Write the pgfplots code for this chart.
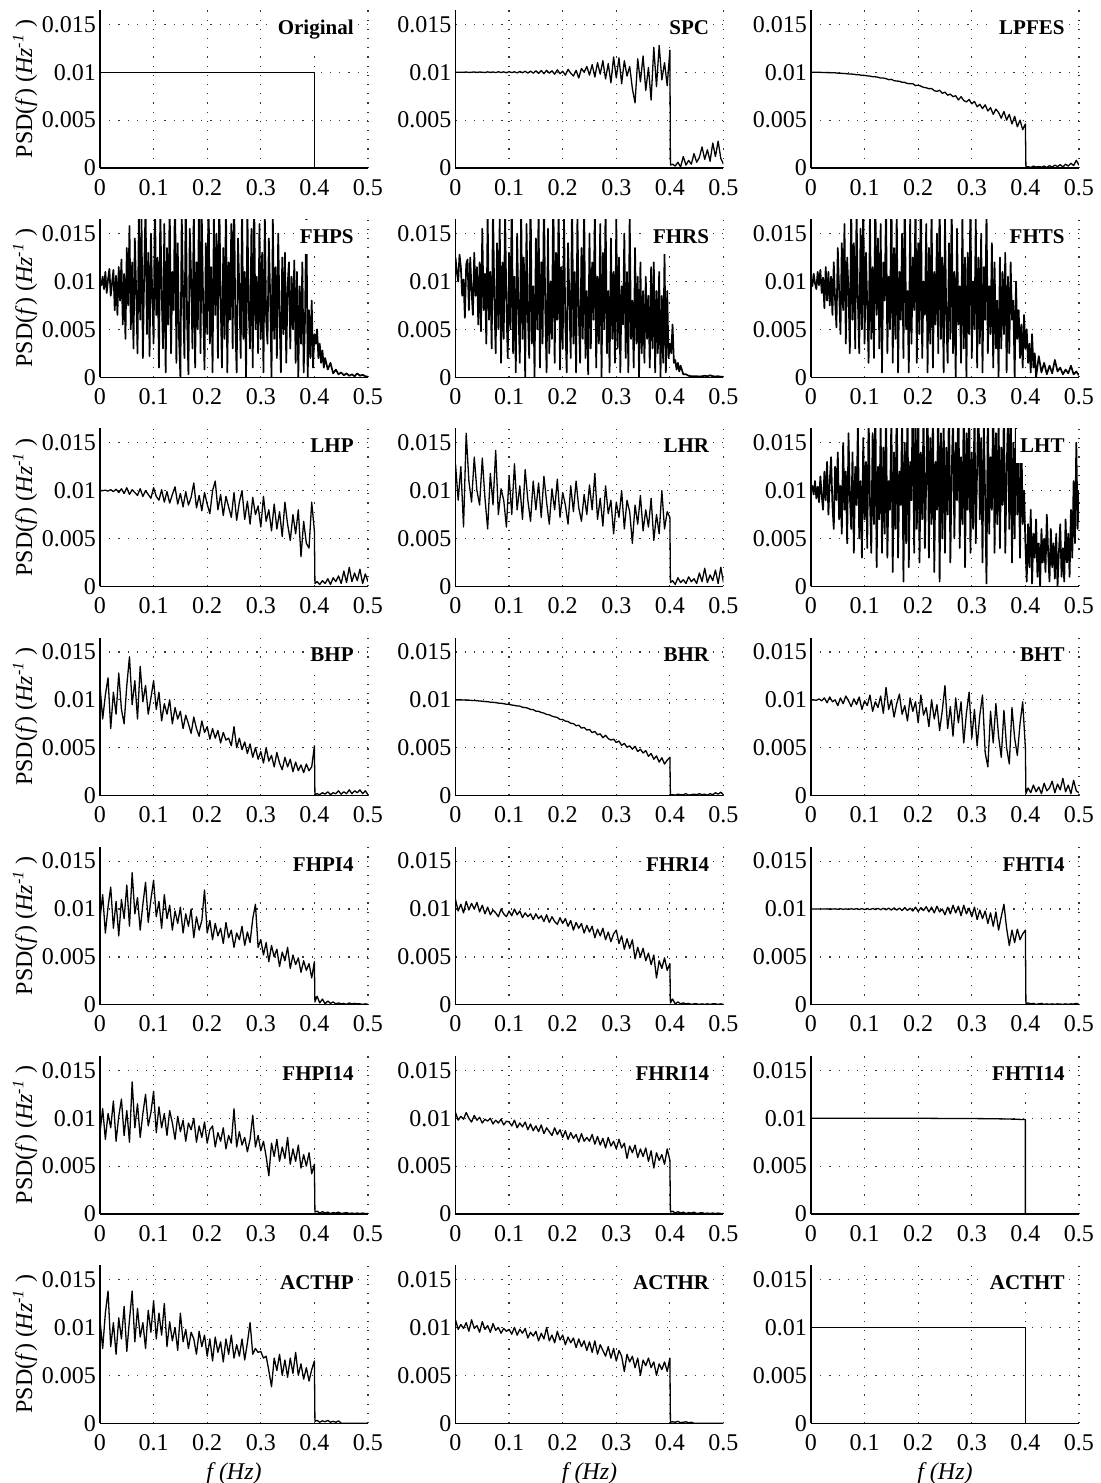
\documentclass[border=0pt]{standalone}
\usepackage{fontspec}
\setmainfont{Liberation Serif}
\usepackage{pgfplots}
\pgfplotsset{compat=1.18}
\usepgfplotslibrary{groupplots}
\tikzset{
 dat/.style={black, line width=0.65pt, line join=round, mark=none},
 heavy/.style={black, line width=0.85pt, line join=round, mark=none},
 ttl/.style={anchor=north east, fill=white, inner xsep=2pt, inner ysep=5pt, xshift=-5pt, font=\fontsize{10.5}{12}\selectfont\bfseries},
}
\pgfplotsset{
 psd/.style={scale only axis, width=134pt, height=79pt,
  xmin=0, xmax=500, ymin=0, ymax=16.5,
  xtick={0,100,200,300,400,500}, xticklabels={0,0.1,0.2,0.3,0.4,0.5},
  ytick={0,5,10,15}, yticklabels={0,0.005,0.01,0.015},
  axis x line=bottom, axis y line=left, axis line style={-, line width=0.6pt},
  grid=major, major grid style={black!80, line width=0.6pt, dash pattern=on 0.6pt off 4pt},
  major tick length=0pt,
  tick label style={font=\fontsize{12}{14}\selectfont},
  label style={font=\fontsize{12}{14}\selectfont},
  yticklabel style={xshift=1.5pt},
  xticklabel style={yshift=-2pt},
  ylabel shift=-4.5pt,
  xlabel style={yshift=1pt},
 },
}
\newcommand{\psdlabel}{PSD(\textit{f}) (\textit{Hz}\textsuperscript{\textit{-1}} )}
\begin{document}
\begin{tikzpicture}
\begin{groupplot}[group style={group size=3 by 7, horizontal sep=43.75pt, vertical sep=25.6pt}, psd]
% ---------- Row 1
\nextgroupplot[ylabel={\psdlabel}]
\addplot[dat] coordinates {(0,10)(400,10)(400,0)(500,0)};
\node[ttl] at (rel axis cs:1,1) {Original};
\nextgroupplot
\addplot[dat] coordinates {(0,10.0)(5,10.0)(10,10.0)(15,10.0)(20,10.02)(25,9.98)(30,10.0)(35,10.03)(40,9.98)(45,10.02)(50,10.0)(55,9.97)(60,10.04)(65,9.98)(70,10.03)(75,9.96)(80,10.05)(85,9.97)(90,10.04)(95,9.95)(100,10.06)(105,9.96)(110,10.05)(115,9.93)(120,10.08)(125,9.95)(130,10.1)(135,9.92)(140,10.12)(145,9.9)(150,10.15)(155,9.88)(160,10.18)(165,9.85)(170,10.2)(175,9.9)(180,10.15)(185,9.8)(190,10.25)(195,9.85)(200,10.1)(205,9.7)(210,10.3)(215,9.9)(220,9.6)(225,10.2)(230,9.4)(235,10.4)(240,10.0)(245,10.6)(250,9.7)(255,10.8)(260,9.5)(265,11.0)(270,9.8)(275,11.2)(280,9.3)(285,10.9)(290,8.9)(295,11.6)(300,9.4)(305,11.5)(310,8.8)(315,11.2)(320,9.6)(325,10.6)(330,8.3)(335,6.8)(340,11.4)(345,9.0)(350,11.7)(355,8.1)(360,10.5)(365,7.1)(370,12.6)(375,8.5)(380,12.8)(385,9.2)(390,11.0)(395,8.6)(400,12.3)(401,0.3)(405,0.4)(410,0.2)(415,0.6)(420,0.1)(425,1.2)(430,0.3)(435,0.8)(440,0.4)(445,1.5)(450,0.6)(455,1.1)(460,2.2)(465,0.9)(470,1.9)(475,0.7)(480,2.6)(485,1.2)(490,2.8)(495,1.0)(500,0.4)};
\node[ttl] at (rel axis cs:1,1) {SPC};
\nextgroupplot
\addplot[dat] coordinates {(0,10.0)(5,10.0)(10,9.99)(15,10.0)(20,9.98)(25,9.98)(30,9.96)(35,9.96)(40,9.95)(45,9.94)(50,9.91)(55,9.9)(60,9.87)(65,9.86)(70,9.82)(75,9.81)(80,9.79)(85,9.74)(90,9.73)(95,9.68)(100,9.67)(105,9.62)(110,9.6)(115,9.53)(120,9.52)(125,9.48)(130,9.39)(135,9.4)(140,9.33)(145,9.22)(150,9.26)(155,9.12)(160,9.08)(165,9.06)(170,8.95)(175,8.94)(180,8.82)(185,8.8)(190,8.8)(195,8.6)(200,8.65)(205,8.55)(210,8.42)(215,8.38)(220,8.28)(225,8.3)(230,8.08)(235,8.0)(240,8.12)(245,7.8)(250,7.92)(255,7.6)(260,7.72)(265,7.45)(270,7.55)(275,7.1)(280,7.45)(285,7.05)(290,6.9)(295,7.15)(300,6.7)(305,6.95)(310,6.4)(315,6.65)(320,6.2)(325,6.6)(330,5.95)(335,6.3)(340,5.6)(345,6.15)(350,5.8)(355,5.2)(360,5.9)(365,5.0)(370,5.6)(375,4.6)(380,5.4)(385,4.3)(390,5.0)(395,4.0)(400,4.6)(401,0.1)(405,0.15)(410,0.05)(415,0.2)(420,0.1)(425,0.15)(430,0.1)(435,0.2)(440,0.05)(445,0.25)(450,0.1)(455,0.3)(460,0.15)(465,0.35)(470,0.1)(475,0.4)(480,0.2)(485,0.5)(490,0.25)(495,0.8)(500,0.3)};
\node[ttl] at (rel axis cs:1,1) {LPFES};
% ---------- Row 2
\nextgroupplot[ylabel={\psdlabel}]
\addplot[heavy] coordinates {(0,10.0)(2.5,9.6)(5,10.5)(7.5,9.2)(10,11.0)(12.5,8.8)(15,10.2)(17.5,11.3)(20,8.5)(22.5,9.8)(25,11.2)(27.5,7.0)(30,10.6)(32.5,6.5)(35,11.5)(37.5,8.0)(40,12.3)(42.5,5.5)(45,10.8)(47.5,4.0)(50,13.5)(52.5,7.5)(55,15.8)(57.5,5.0)(60,12.0)(62.5,3.0)(65,14.5)(67.5,9.0)(70,2.5)(72.5,17.0)(75,6.0)(77.5,16.5)(80,2.0)(82.5,11.0)(85,18.0)(87.5,4.5)(90,13.0)(92.5,2.2)(95,15.0)(97.5,8.5)(100,3.5)(102.5,19.0)(105,6.5)(107.5,12.5)(110,1.0)(112.5,17.5)(115,9.0)(117.5,3.0)(120,16.0)(122.5,0.5)(125,13.5)(127.5,5.5)(130,18.5)(132.5,2.5)(135,11.0)(137.5,7.0)(140,20.0)(142.5,1.5)(145,14.0)(147.5,4.0)(150,0.0)(152.5,17.0)(155,8.5)(157.5,2.0)(160,19.5)(162.5,6.0)(165,0.3)(167.5,15.5)(170,10.5)(172.5,3.0)(175,18.0)(177.5,1.0)(180,12.0)(182.5,5.0)(185,21.0)(187.5,2.5)(190,16.5)(192.5,7.5)(195,0.8)(197.5,14.0)(200,4.5)(202.5,20.0)(205,3.5)(207.5,11.5)(210,0.5)(212.5,17.0)(215,6.5)(217.5,15.0)(220,2.0)(222.5,19.0)(225,8.5)(227.5,1.0)(230,13.5)(232.5,4.0)(235,18.5)(237.5,0.5)(240,12.0)(242.5,6.0)(245,16.0)(247.5,3.0)(250,20.5)(252.5,5.5)(255,0.5)(257.5,14.5)(260,9.0)(262.5,2.0)(265,18.0)(267.5,4.0)(270,11.0)(272.5,0.0)(275,17.5)(277.5,7.0)(280,3.0)(282.5,15.5)(285,1.0)(287.5,19.5)(290,5.0)(292.5,10.5)(295,2.5)(297.5,16.0)(300,4.0)(302.5,13.0)(305,0.5)(307.5,17.0)(310,6.0)(312.5,3.5)(315,14.5)(317.5,8.5)(320,0.0)(322.5,16.5)(325,4.0)(327.5,11.5)(330,2.0)(332.5,15.0)(335,6.5)(337.5,0.5)(340,12.5)(342.5,4.5)(345,13.0)(347.5,1.5)(350,9.5)(352.5,12.0)(355,3.0)(357.5,10.5)(360,5.0)(362.5,12.2)(365,1.5)(367.5,11.0)(370,0.0)(372.5,9.5)(375,3.5)(377.5,12.0)(380,0.5)(382.5,6.0)(385,18.0)(387.5,0.0)(390,7.0)(392.5,2.0)(395,8.0)(397.5,1.0)(400,4.5)(402.5,3.5)(405,5.0)(407.5,2.0)(410,3.5)(412.5,1.5)(415,2.8)(417.5,1.0)(420,2.0)(425,0.8)(430,1.5)(435,0.4)(440,0.8)(445,0.3)(450,0.5)(455,0.2)(460,0.4)(465,0.15)(470,0.3)(475,0.1)(480,0.4)(485,0.15)(490,0.25)(495,0.1)(500,0.05)};
\node[ttl] at (rel axis cs:1,1) {FHPS};
\nextgroupplot
\addplot[heavy] coordinates {(0,12.5)(2.5,11.0)(5,10.0)(7.5,12.8)(10,11.5)(12.5,8.5)(15,10.2)(17.5,6.2)(20,11.8)(22.5,12.3)(25,7.0)(27.5,12.5)(30,9.0)(32.5,6.5)(35,13.0)(37.5,8.5)(40,11.5)(42.5,5.5)(45,12.0)(47.5,4.8)(50,15.5)(52.5,7.0)(55,10.8)(57.5,3.5)(60,17.0)(62.5,6.0)(65,11.0)(67.5,3.0)(70,18.0)(72.5,8.0)(75,2.5)(77.5,14.0)(80,5.0)(82.5,16.5)(85,1.5)(87.5,12.0)(90,4.0)(92.5,17.5)(95,7.5)(97.5,2.0)(100,13.0)(102.5,5.0)(105,19.0)(107.5,2.5)(110,10.5)(112.5,0.5)(115,15.0)(117.5,7.0)(120,1.5)(122.5,18.0)(125,4.0)(127.5,12.5)(130,0.0)(132.5,16.0)(135,6.5)(137.5,2.0)(140,20.0)(142.5,3.5)(145,9.5)(147.5,0.0)(150,14.5)(152.5,5.0)(155,17.5)(157.5,1.0)(160,12.0)(162.5,3.5)(165,19.0)(167.5,7.0)(170,0.5)(172.5,15.5)(175,2.5)(177.5,10.0)(180,4.0)(182.5,20.5)(185,1.5)(187.5,13.0)(190,6.0)(192.5,18.0)(195,0.8)(197.5,11.5)(200,3.0)(202.5,16.5)(205,5.5)(207.5,0.5)(210,14.0)(212.5,8.0)(215,2.0)(217.5,19.0)(220,3.5)(222.5,11.0)(225,0.5)(227.5,17.0)(230,6.5)(232.5,1.5)(235,13.5)(237.5,4.0)(240,18.5)(242.5,2.0)(245,9.0)(247.5,0.3)(250,15.0)(252.5,3.0)(255,12.0)(257.5,6.0)(260,17.5)(262.5,1.0)(265,10.5)(267.5,3.5)(270,16.0)(272.5,0.0)(275,13.0)(277.5,5.0)(280,18.0)(282.5,2.5)(285,9.0)(287.5,0.5)(290,14.5)(292.5,4.0)(295,11.0)(297.5,1.5)(300,16.5)(302.5,3.0)(305,12.5)(307.5,0.5)(310,9.5)(312.5,5.5)(315,15.0)(317.5,2.0)(320,11.0)(322.5,0.5)(325,17.0)(327.5,4.0)(330,8.0)(332.5,1.0)(335,13.5)(337.5,3.5)(340,10.5)(342.5,0.0)(345,12.0)(347.5,2.5)(350,9.0)(352.5,1.5)(355,10.5)(357.5,4.0)(360,8.5)(362.5,1.0)(365,11.5)(367.5,3.0)(370,12.0)(372.5,0.5)(375,9.0)(377.5,2.5)(380,11.0)(382.5,0.0)(385,8.5)(387.5,1.5)(390,13.0)(392.5,0.5)(395,9.0)(397.5,2.0)(400,3.5)(402.5,2.5)(405,5.5)(407.5,1.5)(410,1.8)(412.5,0.8)(415,1.5)(417.5,0.6)(420,1.2)(425,0.3)(430,0.3)(435,0.15)(440,0.1)(445,0.1)(450,0.1)(455,0.08)(460,0.1)(465,0.15)(470,0.1)(475,0.2)(480,0.1)(485,0.08)(490,0.1)(495,0.05)(500,0.05)};
\node[ttl] at (rel axis cs:1,1) {FHRS};
\nextgroupplot
\addplot[heavy] coordinates {(0,10.0)(2.5,9.5)(5,10.8)(7.5,9.8)(10,9.2)(12.5,11.0)(15,9.6)(17.5,11.2)(20,8.8)(22.5,10.4)(25,7.2)(27.5,11.5)(30,8.0)(32.5,11.0)(35,7.5)(37.5,10.5)(40,6.5)(42.5,12.0)(45,8.0)(47.5,5.2)(50,13.5)(52.5,9.0)(55,4.5)(57.5,14.0)(60,7.0)(62.5,16.0)(65,3.5)(67.5,12.5)(70,9.0)(72.5,2.5)(75,18.0)(77.5,6.0)(80,14.0)(82.5,3.0)(85,17.5)(87.5,8.0)(90,2.5)(92.5,15.5)(95,5.0)(97.5,19.0)(100,3.5)(102.5,13.0)(105,7.5)(107.5,1.5)(110,17.0)(112.5,4.0)(115,11.5)(117.5,2.0)(120,19.5)(122.5,6.5)(125,14.5)(127.5,3.0)(130,16.0)(132.5,0.5)(135,12.0)(137.5,8.0)(140,18.0)(142.5,2.5)(145,10.5)(147.5,5.0)(150,20.0)(152.5,1.5)(155,13.5)(157.5,4.0)(160,17.5)(162.5,0.5)(165,11.0)(167.5,6.0)(170,15.0)(172.5,2.0)(175,19.0)(177.5,5.0)(180,9.0)(182.5,0.5)(185,16.5)(187.5,3.5)(190,12.5)(192.5,7.0)(195,18.5)(197.5,1.5)(200,14.0)(202.5,4.5)(205,20.5)(207.5,2.0)(210,10.0)(212.5,6.5)(215,16.0)(217.5,0.5)(220,13.5)(222.5,3.5)(225,18.0)(227.5,1.0)(230,11.0)(232.5,5.5)(235,15.0)(237.5,2.5)(240,19.0)(242.5,4.0)(245,12.5)(247.5,0.5)(250,16.5)(252.5,6.0)(255,1.5)(257.5,14.0)(260,4.0)(262.5,18.5)(265,2.5)(267.5,11.0)(270,0.0)(272.5,15.5)(275,5.5)(277.5,9.5)(280,1.5)(282.5,17.0)(285,3.0)(287.5,12.5)(290,0.0)(292.5,13.0)(295,4.5)(297.5,19.0)(300,2.0)(302.5,10.0)(305,5.0)(307.5,16.5)(310,1.0)(312.5,12.5)(315,3.5)(317.5,15.0)(320,0.5)(322.5,11.5)(325,6.0)(327.5,17.5)(330,2.5)(332.5,9.5)(335,4.5)(337.5,14.0)(340,1.0)(342.5,12.0)(345,3.0)(347.5,8.0)(350,0.0)(352.5,12.5)(355,3.0)(357.5,11.0)(360,4.5)(362.5,13.0)(365,0.5)(367.5,10.5)(370,2.5)(372.5,12.0)(375,6.0)(377.5,8.0)(380,0.0)(382.5,10.0)(385,4.0)(387.5,7.0)(390,2.0)(392.5,5.5)(395,1.0)(397.5,6.5)(400,3.0)(402.5,5.0)(405,1.5)(407.5,3.5)(410,0.5)(412.5,4.5)(415,1.0)(417.5,2.5)(420,0.0)(425,2.2)(430,0.5)(435,1.5)(440,0.3)(445,1.2)(450,0.4)(455,1.8)(460,0.6)(465,1.0)(470,0.3)(475,0.8)(480,0.4)(485,1.2)(490,0.3)(495,0.6)(500,0.2)};
\node[ttl] at (rel axis cs:1,1) {FHTS};
% ---------- Row 3
\nextgroupplot[ylabel={\psdlabel}]
\addplot[dat] coordinates {(0,10.0)(5,10.0)(10,10.05)(15,9.95)(20,10.1)(25,9.9)(30,10.15)(35,9.8)(40,10.2)(45,9.7)(50,10.3)(55,9.6)(60,10.1)(65,9.8)(70,9.5)(75,10.2)(80,9.4)(85,10.0)(90,9.6)(95,9.2)(100,10.3)(105,9.4)(110,9.0)(115,10.1)(120,8.8)(125,9.9)(130,8.7)(135,9.6)(140,10.4)(145,8.6)(150,9.7)(155,8.3)(160,9.9)(165,8.5)(170,9.3)(175,10.8)(180,8.2)(185,9.5)(190,7.9)(195,9.8)(200,8.6)(205,7.6)(210,10.0)(215,11.0)(220,8.0)(225,9.6)(230,7.4)(235,9.4)(240,8.3)(245,7.2)(250,9.8)(255,6.9)(260,8.8)(265,10.0)(270,7.0)(275,8.9)(280,6.5)(285,9.3)(290,7.5)(295,8.4)(300,6.2)(305,9.4)(310,6.8)(315,8.0)(320,5.8)(325,8.6)(330,6.0)(335,7.8)(340,5.2)(345,8.8)(350,6.5)(355,4.8)(360,7.5)(365,5.5)(370,8.0)(375,3.1)(380,6.8)(385,4.5)(390,4.0)(395,8.8)(400,5.8)(401,0.3)(405,0.5)(410,0.2)(415,0.6)(420,0.3)(425,0.8)(430,0.2)(435,0.9)(440,0.5)(445,1.1)(450,0.3)(455,1.6)(460,0.4)(465,2.0)(470,0.5)(475,1.4)(480,0.6)(485,1.8)(490,0.3)(495,1.3)(500,0.5)};
\node[ttl] at (rel axis cs:1,1) {LHP};
\nextgroupplot
\addplot[dat] coordinates {(0,12.8)(5,9.0)(10,12.5)(15,6.2)(20,16.0)(25,11.0)(30,8.8)(35,13.5)(40,10.0)(45,8.5)(50,13.4)(55,9.2)(60,6.0)(65,11.8)(70,8.5)(75,14.2)(80,7.5)(85,10.2)(90,9.0)(95,6.2)(100,11.5)(105,7.5)(110,12.8)(115,8.0)(120,10.5)(125,7.0)(130,12.2)(135,9.0)(140,6.8)(145,11.0)(150,8.0)(155,10.8)(160,7.2)(165,11.5)(170,8.8)(175,6.5)(180,10.2)(185,8.0)(190,11.2)(195,7.2)(200,9.8)(205,8.5)(210,6.5)(215,10.5)(220,7.8)(225,11.0)(230,8.2)(235,6.8)(240,9.6)(245,7.5)(250,10.6)(255,8.0)(260,11.8)(265,7.0)(270,9.2)(275,6.3)(280,10.5)(285,7.6)(290,9.0)(295,5.5)(300,8.8)(305,7.2)(310,10.0)(315,6.0)(320,9.0)(325,7.8)(330,4.5)(335,8.5)(340,6.5)(345,9.5)(350,5.8)(355,8.0)(360,6.2)(365,9.2)(370,4.8)(375,7.5)(380,5.5)(385,10.0)(390,6.0)(395,7.8)(400,7.2)(401,0.4)(405,0.6)(410,0.2)(415,0.9)(420,0.4)(425,0.7)(430,0.3)(435,1.0)(440,0.5)(445,0.8)(450,0.3)(455,1.4)(460,0.5)(465,1.9)(470,0.4)(475,1.2)(480,0.6)(485,1.7)(490,0.3)(495,2.0)(500,0.4)};
\node[ttl] at (rel axis cs:1,1) {LHR};
\nextgroupplot
\addplot[heavy] coordinates {(0,10.0)(2.5,10.5)(5,9.6)(7.5,11.0)(10,9.2)(12.5,10.4)(15,8.8)(17.5,11.5)(20,9.5)(22.5,8.0)(25,12.0)(27.5,9.0)(30,13.0)(32.5,7.5)(35,11.0)(37.5,13.5)(40,8.5)(42.5,6.0)(45,12.5)(47.5,9.0)(50,14.0)(52.5,7.0)(55,10.5)(57.5,5.5)(60,15.0)(62.5,8.0)(65,12.0)(67.5,4.5)(70,16.0)(72.5,9.5)(75,6.0)(77.5,14.0)(80,3.5)(82.5,12.5)(85,8.5)(87.5,17.0)(90,5.0)(92.5,11.0)(95,3.0)(97.5,15.5)(100,7.0)(102.5,13.0)(105,4.0)(107.5,18.0)(110,9.0)(112.5,3.5)(115,16.0)(117.5,6.5)(120,20.0)(122.5,2.0)(125,12.5)(127.5,7.0)(130,17.0)(132.5,3.5)(135,14.5)(137.5,5.5)(140,19.0)(142.5,3.0)(145,11.0)(147.5,8.0)(150,18.0)(152.5,1.5)(155,14.0)(157.5,6.0)(160,20.0)(162.5,3.0)(165,12.0)(167.5,8.5)(170,17.5)(172.5,0.5)(175,15.0)(177.5,4.5)(180,19.0)(182.5,2.0)(185,13.0)(187.5,9.0)(190,21.0)(192.5,3.5)(195,16.5)(197.5,6.0)(200,20.0)(202.5,2.5)(205,14.0)(207.5,7.0)(210,18.5)(212.5,4.0)(215,11.0)(217.5,20.0)(220,3.0)(222.5,15.5)(225,6.5)(227.5,19.0)(230,1.5)(232.5,13.0)(235,8.0)(237.5,20.5)(240,0.5)(242.5,16.0)(245,5.0)(247.5,18.0)(250,3.5)(252.5,14.5)(255,7.5)(257.5,20.0)(260,2.5)(262.5,12.0)(265,17.5)(267.5,5.0)(270,15.0)(272.5,9.0)(275,21.0)(277.5,4.0)(280,13.5)(282.5,6.5)(285,19.0)(287.5,2.0)(290,16.0)(292.5,8.0)(295,20.0)(297.5,3.5)(300,14.0)(302.5,6.0)(305,18.5)(307.5,4.5)(310,12.5)(312.5,20.0)(315,7.0)(317.5,15.5)(320,2.5)(322.5,17.0)(325,9.0)(327.5,0.3)(330,19.5)(332.5,5.5)(335,13.5)(337.5,8.0)(340,20.0)(342.5,3.5)(345,16.0)(347.5,6.5)(350,18.0)(352.5,4.0)(355,14.5)(357.5,8.5)(360,19.0)(362.5,3.5)(365,12.0)(367.5,17.5)(370,6.0)(372.5,20.0)(375,2.5)(377.5,15.0)(380,5.0)(382.5,18.5)(385,7.5)(387.5,13.0)(390,3.0)(392.5,16.0)(395,6.5)(397.5,10.0)(400,4.5)(402.5,0.5)(405,6.5)(407.5,2.0)(410,8.0)(412.5,0.3)(415,5.5)(417.5,3.0)(420,7.0)(422.5,1.0)(425,4.5)(427.5,0.0)(430,6.0)(432.5,2.5)(435,5.0)(437.5,1.5)(440,7.5)(442.5,3.5)(445,0.5)(447.5,6.0)(450,2.0)(452.5,4.5)(455,0.8)(457.5,5.5)(460,0.0)(462.5,3.5)(465,6.5)(467.5,1.0)(470,4.0)(472.5,0.5)(475,7.0)(477.5,2.5)(480,5.5)(482.5,1.0)(485,8.0)(487.5,3.0)(490,11.0)(492.5,4.5)(495,15.0)(497.5,6.0)(500,10.0)};
\node[ttl] at (rel axis cs:1,1) {LHT};
% ---------- Row 4
\nextgroupplot[ylabel={\psdlabel}]
\addplot[dat] coordinates {(0,11.5)(5,8.0)(10,10.5)(15,12.3)(20,7.0)(25,10.8)(30,8.5)(35,12.8)(40,9.0)(45,7.5)(50,11.5)(55,14.5)(60,9.5)(65,12.0)(70,8.0)(75,13.5)(80,9.8)(85,11.5)(90,8.5)(95,10.2)(100,12.0)(105,9.0)(110,10.8)(115,7.8)(120,9.6)(125,8.5)(130,10.0)(135,7.5)(140,9.2)(145,8.0)(150,8.8)(155,7.0)(160,8.4)(165,7.5)(170,6.5)(175,8.2)(180,7.0)(185,6.2)(190,7.8)(195,6.6)(200,7.2)(205,5.9)(210,7.0)(215,6.0)(220,6.8)(225,5.5)(230,6.6)(235,5.8)(240,6.0)(245,5.2)(250,7.2)(255,5.0)(260,6.0)(265,4.8)(270,5.6)(275,4.4)(280,5.4)(285,4.0)(290,5.0)(295,3.8)(300,4.6)(305,3.4)(310,5.0)(315,3.6)(320,4.2)(325,3.0)(330,4.5)(335,3.4)(340,2.7)(345,4.0)(350,3.0)(355,3.8)(360,2.5)(365,3.5)(370,2.6)(375,3.2)(380,2.4)(385,3.3)(390,2.6)(395,3.0)(400,5.2)(401,0.1)(405,0.2)(410,0.1)(415,0.3)(420,0.15)(425,0.4)(430,0.1)(435,0.3)(440,0.2)(445,0.5)(450,0.15)(455,0.4)(460,0.2)(465,0.6)(470,0.2)(475,0.5)(480,0.3)(485,0.6)(490,0.2)(495,0.5)(500,0.1)};
\node[ttl] at (rel axis cs:1,1) {BHP};
\nextgroupplot
\addplot[dat] coordinates {(0,10.0)(5,10.0)(10,10.0)(15,9.99)(20,9.97)(25,9.97)(30,9.94)(35,9.93)(40,9.91)(45,9.88)(50,9.86)(55,9.82)(60,9.81)(65,9.76)(70,9.74)(75,9.71)(80,9.66)(85,9.64)(90,9.6)(95,9.54)(100,9.53)(105,9.46)(110,9.42)(115,9.36)(120,9.35)(125,9.22)(130,9.2)(135,9.13)(140,9.0)(145,8.98)(150,8.82)(155,8.8)(160,8.68)(165,8.62)(170,8.48)(175,8.44)(180,8.3)(185,8.22)(190,8.16)(195,7.95)(200,7.95)(205,7.78)(210,7.74)(215,7.55)(220,7.52)(225,7.3)(230,7.35)(235,7.05)(240,7.12)(245,6.85)(250,6.9)(255,6.58)(260,6.7)(265,6.35)(270,6.45)(275,6.05)(280,6.3)(285,5.95)(290,5.8)(295,5.9)(300,5.55)(305,5.7)(310,5.25)(315,5.45)(320,5.05)(325,5.2)(330,4.85)(335,5.15)(340,4.6)(345,4.85)(350,4.45)(355,4.7)(360,4.1)(365,4.4)(370,3.8)(375,4.15)(380,3.5)(385,3.95)(390,3.3)(395,3.7)(400,4.0)(401,0.1)(405,0.1)(410,0.05)(415,0.15)(420,0.1)(425,0.1)(430,0.2)(435,0.05)(440,0.1)(445,0.15)(450,0.1)(455,0.2)(460,0.1)(465,0.15)(470,0.05)(475,0.2)(480,0.1)(485,0.3)(490,0.15)(495,0.35)(500,0.1)};
\node[ttl] at (rel axis cs:1,1) {BHR};
\nextgroupplot
\addplot[dat] coordinates {(0,10.0)(5,10.0)(10,9.95)(15,10.1)(20,9.9)(25,10.2)(30,9.7)(35,10.3)(40,9.8)(45,10.0)(50,9.4)(55,10.2)(60,9.6)(65,10.4)(70,9.9)(75,9.3)(80,10.1)(85,9.5)(90,10.3)(95,9.0)(100,9.9)(105,9.4)(110,10.5)(115,8.8)(120,9.8)(125,9.2)(130,10.4)(135,8.6)(140,11.3)(145,9.0)(150,10.0)(155,8.2)(160,9.6)(165,10.6)(170,8.5)(175,9.4)(180,7.8)(185,10.2)(190,8.8)(195,9.8)(200,7.6)(205,10.5)(210,8.4)(215,9.2)(220,7.2)(225,10.0)(230,8.0)(235,9.5)(240,6.8)(245,8.9)(250,11.5)(255,7.0)(260,9.3)(265,6.2)(270,10.2)(275,7.6)(280,9.8)(285,5.5)(290,8.6)(295,10.8)(300,6.0)(305,9.0)(310,5.2)(315,8.4)(320,10.5)(325,4.5)(330,3.0)(335,8.8)(340,5.5)(345,9.6)(350,6.2)(355,4.0)(360,8.9)(365,5.0)(370,3.3)(375,9.2)(380,6.0)(385,4.2)(390,7.5)(395,9.8)(400,5.0)(401,0.2)(405,0.8)(410,0.3)(415,1.1)(420,0.4)(425,0.9)(430,0.2)(435,1.3)(440,0.5)(445,0.8)(450,1.5)(455,0.3)(460,1.2)(465,0.6)(470,1.8)(475,0.4)(480,1.1)(485,0.2)(490,1.6)(495,0.5)(500,0.3)};
\node[ttl] at (rel axis cs:1,1) {BHT};
% ---------- Row 5
\nextgroupplot[ylabel={\psdlabel}]
\addplot[dat] coordinates {(0,9.0)(5,11.5)(10,7.5)(15,10.2)(20,12.3)(25,8.0)(30,10.8)(35,7.2)(40,11.0)(45,9.0)(50,12.5)(55,8.2)(60,13.8)(65,9.5)(70,11.2)(75,7.8)(80,10.5)(85,12.8)(90,8.6)(95,11.0)(100,13.0)(105,9.2)(110,10.8)(115,8.0)(120,11.5)(125,9.0)(130,10.4)(135,7.8)(140,9.8)(145,8.5)(150,10.2)(155,7.5)(160,9.5)(165,8.2)(170,10.0)(175,7.0)(180,9.2)(185,7.8)(190,8.8)(195,12.0)(200,7.5)(205,8.8)(210,6.8)(215,8.5)(220,7.2)(225,8.0)(230,6.4)(235,8.6)(240,7.0)(245,7.8)(250,6.0)(255,7.5)(260,6.8)(265,8.2)(270,6.2)(275,7.6)(280,6.5)(285,9.0)(290,10.5)(295,6.0)(300,6.8)(305,5.2)(310,6.5)(315,4.5)(320,6.2)(325,5.0)(330,5.8)(335,4.0)(340,5.5)(345,4.6)(350,6.0)(355,3.8)(360,5.2)(365,4.2)(370,4.9)(375,3.4)(380,4.6)(385,3.6)(390,4.3)(395,2.8)(400,4.5)(401,0.3)(405,0.9)(410,0.2)(415,0.6)(420,0.1)(425,0.4)(430,0.15)(435,0.3)(440,0.1)(445,0.2)(450,0.1)(455,0.15)(460,0.05)(465,0.2)(470,0.1)(475,0.15)(480,0.1)(485,0.1)(490,0.05)(495,0.1)(500,0.05)};
\node[ttl] at (rel axis cs:1,1) {FHPI4};
\nextgroupplot
\addplot[dat] coordinates {(0,11.0)(5,9.8)(10,10.5)(15,9.6)(20,10.8)(25,9.9)(30,10.6)(35,10.0)(40,10.7)(45,9.7)(50,10.4)(55,9.5)(60,10.2)(65,9.4)(70,9.9)(75,9.6)(80,9.2)(85,10.0)(90,9.5)(95,9.2)(100,9.8)(105,9.3)(110,10.0)(115,9.4)(120,9.8)(125,9.1)(130,9.6)(135,9.2)(140,9.5)(145,8.9)(150,9.5)(155,9.0)(160,9.3)(165,8.7)(170,9.4)(175,8.6)(180,9.2)(185,8.7)(190,8.4)(195,9.1)(200,8.5)(205,9.0)(210,8.2)(215,8.8)(220,7.8)(225,8.6)(230,8.0)(235,8.5)(240,7.5)(245,8.3)(250,7.6)(255,8.2)(260,7.0)(265,7.9)(270,7.2)(275,8.0)(280,6.8)(285,7.6)(290,6.6)(295,7.4)(300,7.8)(305,6.4)(310,7.2)(315,5.8)(320,6.9)(325,5.9)(330,6.8)(335,4.8)(340,6.0)(345,5.0)(350,5.9)(355,4.6)(360,5.4)(365,4.2)(370,5.2)(375,2.8)(380,4.6)(385,3.8)(390,4.9)(395,3.6)(400,4.3)(401,0.2)(405,0.6)(410,0.1)(415,0.3)(420,0.1)(425,0.2)(430,0.1)(435,0.15)(440,0.05)(445,0.1)(450,0.1)(455,0.05)(460,0.1)(465,0.05)(470,0.1)(475,0.05)(480,0.1)(485,0.1)(490,0.05)(495,0.1)(500,0.05)};
\node[ttl] at (rel axis cs:1,1) {FHRI4};
\nextgroupplot
\addplot[dat] coordinates {(0,10.0)(5,10.0)(10,10.0)(15,10.0)(20,10.0)(25,10.0)(30,10.02)(35,9.98)(40,10.0)(45,10.02)(50,9.98)(55,10.03)(60,9.98)(65,10.02)(70,9.97)(75,10.03)(80,9.98)(85,10.04)(90,9.96)(95,10.05)(100,9.95)(105,10.05)(110,9.94)(115,10.06)(120,9.95)(125,10.07)(130,9.93)(135,10.08)(140,9.92)(145,10.1)(150,9.9)(155,10.12)(160,9.9)(165,10.1)(170,9.85)(175,10.15)(180,9.85)(185,10.1)(190,9.8)(195,10.2)(200,9.75)(205,10.15)(210,9.85)(215,10.25)(220,9.7)(225,10.2)(230,9.6)(235,10.3)(240,9.7)(245,10.0)(250,9.4)(255,10.2)(260,9.5)(265,10.4)(270,9.6)(275,10.3)(280,9.3)(285,10.4)(290,9.5)(295,10.1)(300,9.2)(305,10.2)(310,8.9)(315,9.9)(320,9.0)(325,9.8)(330,8.5)(335,9.6)(340,8.2)(345,9.7)(350,7.8)(355,9.2)(360,10.5)(365,8.0)(370,6.2)(375,7.8)(380,6.5)(385,7.9)(390,6.8)(395,7.4)(400,7.8)(401,0.1)(405,0.2)(410,0.1)(415,0.15)(420,0.05)(425,0.1)(430,0.15)(435,0.05)(440,0.1)(445,0.05)(450,0.1)(455,0.05)(460,0.1)(465,0.08)(470,0.05)(475,0.1)(480,0.05)(485,0.1)(490,0.08)(495,0.15)(500,0.05)};
\node[ttl] at (rel axis cs:1,1) {FHTI4};
% ---------- Row 6
\nextgroupplot[ylabel={\psdlabel}]
\addplot[dat] coordinates {(0,8.5)(5,11.0)(10,7.8)(15,10.5)(20,9.0)(25,11.8)(30,7.6)(35,10.2)(40,12.0)(45,8.2)(50,10.8)(55,7.5)(60,13.8)(65,9.0)(70,11.5)(75,8.0)(80,10.5)(85,12.5)(90,9.2)(95,10.6)(100,12.8)(105,8.5)(110,11.2)(115,9.0)(120,10.5)(125,8.2)(130,10.8)(135,9.5)(140,7.8)(145,10.2)(150,8.6)(155,9.8)(160,7.6)(165,9.5)(170,8.8)(175,10.0)(180,7.5)(185,9.2)(190,8.0)(195,9.6)(200,7.4)(205,8.8)(210,9.2)(215,7.0)(220,8.5)(225,7.6)(230,9.0)(235,6.8)(240,8.2)(245,7.4)(250,11.0)(255,7.0)(260,8.6)(265,7.2)(270,8.0)(275,6.5)(280,7.8)(285,10.3)(290,7.0)(295,8.2)(300,6.6)(305,7.6)(310,6.0)(315,4.0)(320,7.4)(325,6.0)(330,7.8)(335,5.5)(340,7.0)(345,5.8)(350,8.0)(355,5.2)(360,6.8)(365,5.5)(370,7.2)(375,4.8)(380,6.2)(385,5.0)(390,6.4)(395,4.2)(400,5.2)(401,0.2)(405,0.3)(410,0.1)(415,0.25)(420,0.1)(425,0.2)(430,0.05)(435,0.15)(440,0.1)(445,0.2)(450,0.05)(455,0.1)(460,0.15)(465,0.05)(470,0.1)(475,0.05)(480,0.1)(485,0.05)(490,0.1)(495,0.05)(500,0.05)};
\node[ttl] at (rel axis cs:1,1) {FHPI14};
\nextgroupplot
\addplot[dat] coordinates {(0,10.6)(5,9.8)(10,10.2)(15,9.9)(20,10.6)(25,10.0)(30,9.6)(35,10.3)(40,9.8)(45,10.1)(50,9.5)(55,9.9)(60,9.7)(65,10.0)(70,9.4)(75,9.8)(80,9.5)(85,9.9)(90,9.3)(95,9.7)(100,9.6)(105,9.2)(110,9.8)(115,9.0)(120,9.5)(125,9.1)(130,9.6)(135,8.8)(140,9.4)(145,8.7)(150,9.2)(155,8.6)(160,9.3)(165,8.4)(170,9.0)(175,8.6)(180,8.2)(185,9.0)(190,8.3)(195,8.8)(200,8.0)(205,8.7)(210,7.8)(215,8.5)(220,7.9)(225,8.3)(230,7.5)(235,8.4)(240,7.6)(245,8.0)(250,7.6)(255,8.3)(260,7.3)(265,8.1)(270,7.2)(275,7.9)(280,6.9)(285,8.0)(290,7.1)(295,7.6)(300,6.8)(305,7.8)(310,6.9)(315,7.4)(320,5.8)(325,7.1)(330,6.4)(335,7.2)(340,5.9)(345,6.8)(350,6.0)(355,6.9)(360,5.5)(365,6.6)(370,4.8)(375,6.4)(380,5.6)(385,6.2)(390,5.2)(395,6.8)(400,5.6)(401,0.2)(405,0.3)(410,0.1)(415,0.25)(420,0.1)(425,0.2)(430,0.05)(435,0.15)(440,0.1)(445,0.2)(450,0.05)(455,0.1)(460,0.15)(465,0.05)(470,0.1)(475,0.05)(480,0.1)(485,0.05)(490,0.1)(495,0.05)(500,0.05)};
\node[ttl] at (rel axis cs:1,1) {FHRI14};
\nextgroupplot
\addplot[dat] coordinates {(0,10.0)(100,10.0)(200,10.0)(250,9.98)(300,9.97)(340,9.95)(370,9.92)(390,9.88)(400,9.86)(400,0.0)(500,0.0)};
\node[ttl] at (rel axis cs:1,1) {FHTI14};
% ---------- Row 7
\nextgroupplot[ylabel={\psdlabel}, xlabel={\textit{f (Hz)}}]
\addplot[dat] coordinates {(0,10.8)(5,7.8)(10,11.5)(15,13.8)(20,8.0)(25,10.5)(30,7.2)(35,11.0)(40,8.8)(45,12.2)(50,7.5)(55,10.8)(60,13.8)(65,8.5)(70,12.0)(75,9.0)(80,10.5)(85,7.8)(90,11.8)(95,9.5)(100,12.8)(105,8.8)(110,11.5)(115,9.2)(120,12.5)(125,8.0)(130,10.6)(135,8.6)(140,10.0)(145,7.6)(150,11.5)(155,8.5)(160,9.8)(165,7.8)(170,9.5)(175,8.8)(180,7.2)(185,9.6)(190,8.0)(195,9.2)(200,7.0)(205,8.8)(210,6.5)(215,9.0)(220,7.4)(225,8.5)(230,6.4)(235,8.8)(240,7.2)(245,9.2)(250,6.8)(255,8.2)(260,7.0)(265,8.8)(270,6.6)(275,8.4)(280,10.5)(285,7.2)(290,7.8)(295,7.4)(300,7.5)(305,6.8)(310,7.0)(315,5.5)(320,3.8)(325,6.8)(330,5.5)(335,7.2)(340,5.0)(345,6.6)(350,4.8)(355,6.8)(360,5.2)(365,7.4)(370,5.0)(375,6.2)(380,4.6)(385,5.8)(390,4.4)(395,5.6)(400,6.5)(401,0.2)(405,0.3)(410,0.1)(415,0.25)(420,0.15)(425,0.3)(430,0.1)(435,0.2)(440,0.1)(445,0.25)(450,0.0)(500,0.0)};
\node[ttl] at (rel axis cs:1,1) {ACTHP};
\nextgroupplot[xlabel={\textit{f (Hz)}}]
\addplot[dat] coordinates {(0,10.8)(5,9.8)(10,10.3)(15,9.9)(20,10.5)(25,9.6)(30,10.8)(35,9.9)(40,10.2)(45,9.5)(50,10.6)(55,9.8)(60,10.2)(65,9.5)(70,10.4)(75,9.7)(80,10.0)(85,9.4)(90,9.9)(95,9.6)(100,9.8)(105,9.3)(110,10.0)(115,9.2)(120,9.8)(125,9.4)(130,9.9)(135,8.9)(140,9.5)(145,9.1)(150,9.6)(155,8.6)(160,9.4)(165,8.8)(170,10.0)(175,8.6)(180,9.2)(185,8.4)(190,9.6)(195,8.7)(200,9.2)(205,8.2)(210,9.0)(215,8.4)(220,8.9)(225,7.9)(230,8.8)(235,8.0)(240,8.6)(245,7.6)(250,8.5)(255,7.4)(260,8.6)(265,7.2)(270,8.2)(275,7.6)(280,7.0)(285,8.0)(290,6.8)(295,7.8)(300,6.5)(305,7.6)(310,7.0)(315,5.4)(320,7.2)(325,6.4)(330,7.0)(335,5.8)(340,6.8)(345,5.0)(350,6.6)(355,6.0)(360,6.8)(365,5.8)(370,6.4)(375,5.0)(380,6.2)(385,5.6)(390,6.4)(395,5.4)(400,6.8)(401,0.1)(405,0.15)(410,0.1)(415,0.2)(420,0.05)(425,0.1)(430,0.15)(435,0.05)(440,0.1)(445,0.0)(500,0.0)};
\node[ttl] at (rel axis cs:1,1) {ACTHR};
\nextgroupplot[xlabel={\textit{f (Hz)}}]
\addplot[dat] coordinates {(0,10)(400,10)(400,0)(500,0)};
\node[ttl] at (rel axis cs:1,1) {ACTHT};
\end{groupplot}
\pgfresetboundingbox
\path (group c1r1.north west) ++(-50pt,5pt) rectangle ++(550.5pt,-741.5pt);
\end{tikzpicture}
\end{document}
